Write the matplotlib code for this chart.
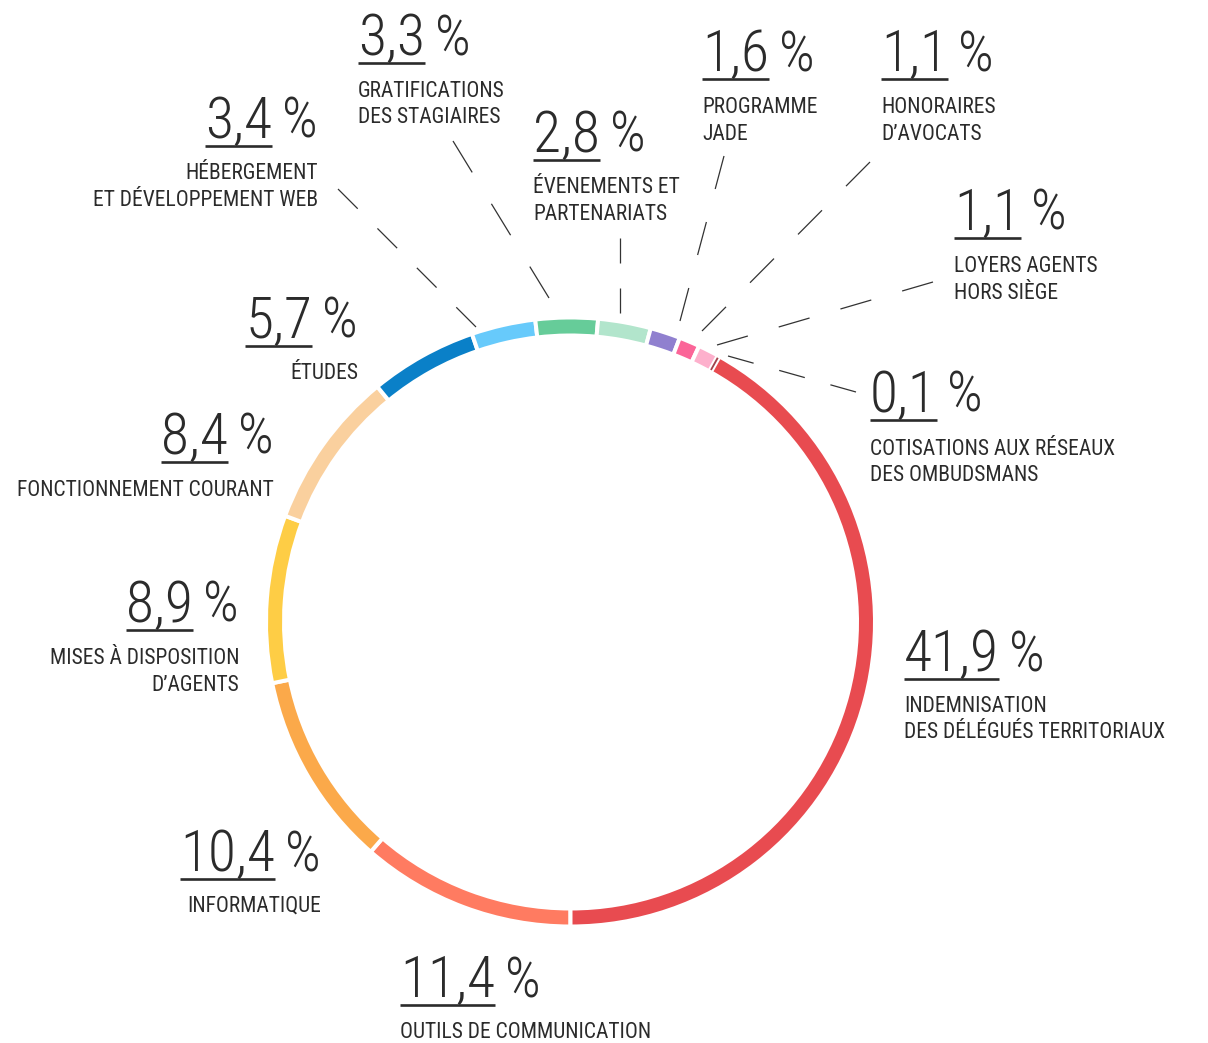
import matplotlib
matplotlib.use("Agg")
import matplotlib.pyplot as plt
from matplotlib import font_manager as fm
from matplotlib.font_manager import FontProperties
from matplotlib.textpath import TextPath

# ---------------- data ----------------
categories = [
    "OUTILS DE COMMUNICATION",
    "INFORMATIQUE",
    "MISES À DISPOSITION\nD’AGENTS",
    "FONCTIONNEMENT COURANT",
    "ÉTUDES",
    "HÉBERGEMENT\nET DÉVELOPPEMENT WEB",
    "GRATIFICATIONS\nDES STAGIAIRES",
    "ÉVENEMENTS ET\nPARTENARIATS",
    "PROGRAMME\nJADE",
    "HONORAIRES\nD’AVOCATS",
    "LOYERS AGENTS\nHORS SIÈGE",
    "COTISATIONS AUX RÉSEAUX\nDES OMBUDSMANS",
    "INDEMNISATION\nDES DÉLÉGUÉS TERRITORIAUX",
]
values = [11.4, 10.4, 8.9, 8.4, 5.7, 3.4, 3.3, 2.8, 1.6, 1.1, 1.1, 0.1, 41.9]
colors = ["#FF7B61", "#FBA94A", "#FECD45", "#FAD09E", "#0A80C8", "#67CAFB",
          "#66CC99", "#B2E5CC", "#9080CF", "#FB6598", "#FDB0CC", "#A1424B",
          "#E84B50"]

# ---------------- layout (pixel coords, y from top) ----------------
W, H = 1208, 1043
TXT = "#2b2b2b"


def pick(cands):
    for c in cands:
        try:
            fm.findfont(FontProperties(family=c), fallback_to_default=False)
            return c
        except Exception:
            pass
    return "DejaVu Sans"


NUM_FONT = [pick(["Roboto Condensed", "Oswald", "Barlow Condensed"]), "DejaVu Sans"]
NUM_WEIGHT = "light"
LAB_FONT = [pick(["Roboto Condensed", "Barlow Semi Condensed", "Oswald"]), "DejaVu Sans"]
LAB_WEIGHT = "normal"

# (anchor x, number baseline y, alignment, label baselines)
label_layout = [
    (400, 997, "left", [1038]),
    (321, 871, "right", [912]),
    (239, 622, "right", [664, 691]),
    (274, 454, "right", [496]),
    (358, 338, "right", [379]),
    (318, 138, "right", [179, 206]),
    (358, 55, "left", [97, 123]),
    (533, 152, "left", [193, 220]),
    (702, 71, "left", [113, 140]),
    (881, 71, "left", [113, 140]),
    (954, 230, "left", [272, 299]),
    (870, 412, "left", [455, 481]),
    (904, 671, "left", [712, 738]),
]
# leader lines: index -> ((x0, y0), (x1, y1), number of dashes)
leaders = {
    5: ((338, 189), (476, 327), 4),
    6: ((453, 141), (549, 298), 3),
    7: ((620, 238), (620, 313), 2),
    8: ((724, 156), (680, 321), 3),
    9: ((870, 162), (702, 331), 4),
    10: ((933, 282), (717, 345), 4),
    11: ((728, 356), (856, 392), 3),
}


def size_for(family, weight, sample, target_px):
    tp = TextPath((0, 0), sample, prop=FontProperties(family=family, weight=weight), size=100)
    h = tp.get_extents().height / 100.0
    return target_px * 0.72 / h


NUM_SIZE = size_for(NUM_FONT[0], NUM_WEIGHT, "3", 42)
PCT_SIZE = size_for(NUM_FONT[0], NUM_WEIGHT, "%", 41)
LAB_SIZE = size_for(LAB_FONT[0], LAB_WEIGHT, "H", 15.3)
GAP = 10

plt.rcParams["lines.scale_dashes"] = False

fig = plt.figure(figsize=(W / 100, H / 100), dpi=100)
ax = fig.add_axes([0, 0, 1, 1])

cx, cy = 570.5, H - 622
ring_outer, ring_w, gap_px = 302.5, 14, 4
wedges, _ = ax.pie(values, colors=colors, startangle=-90, counterclock=False,
                   radius=ring_outer + gap_px / 2, center=(cx, cy),
                   wedgeprops=dict(width=ring_w + gap_px, edgecolor="white",
                                   linewidth=gap_px * 0.72))
# tiny slice: keep it visible as a thin sliver
small = values.index(min(values))
wedges[small].set_linewidth(0)
wedges[small].set_radius(ring_outer)
wedges[small].set_width(ring_w)
wedges[small].set_zorder(5)

ax.set_xlim(0, W)
ax.set_ylim(0, H)
ax.set_aspect("equal")
ax.axis("off")

# leader lines
for i, ((x0, y0), (x1, y1), n) in leaders.items():
    L = ((x1 - x0) ** 2 + (y1 - y0) ** 2) ** 0.5
    d = L / (2 * n - 1) * 0.72
    ax.plot([x0, x1], [H - y0, H - y1], color="#333333", lw=0.9,
            dashes=(d, d), dash_capstyle="butt")

renderer = fig.canvas.get_renderer()
inv = ax.transData.inverted()


def xspan(t):
    bb = t.get_window_extent(renderer)
    (x0, _), (x1, _) = inv.transform([[bb.x0, bb.y0], [bb.x1, bb.y1]])
    return x0, x1


num_kw = dict(fontsize=NUM_SIZE, family=NUM_FONT, weight=NUM_WEIGHT, color=TXT, va="baseline")
pct_kw = dict(fontsize=PCT_SIZE, family=NUM_FONT, weight=NUM_WEIGHT, color=TXT, va="baseline")
lab_kw = dict(fontsize=LAB_SIZE, family=LAB_FONT, weight=LAB_WEIGHT, color=TXT, va="baseline")

for cat, val, (ax_x, base, align, lab_ys) in zip(categories, values, label_layout):
    num = f"{val:.1f}".replace(".", ",")
    if align == "left":
        tn = ax.text(ax_x, H - base, num, ha="left", **num_kw)
        nx0, nx1 = xspan(tn)
        ax.text(nx1 + GAP, H - base, "%", ha="left", **pct_kw)
    else:
        tp = ax.text(ax_x, H - base, "%", ha="right", **pct_kw)
        px0, px1 = xspan(tp)
        tn = ax.text(px0 - GAP, H - base, num, ha="right", **num_kw)
        nx0, nx1 = xspan(tn)
    ax.plot([nx0, nx1], [H - base - 8, H - base - 8], color=TXT, lw=1.9,
            solid_capstyle="butt")
    for line, ly in zip(cat.split("\n"), lab_ys):
        ax.text(ax_x, H - ly, line, ha=align, **lab_kw)

fig.savefig("out.png", dpi=100, facecolor="white")
